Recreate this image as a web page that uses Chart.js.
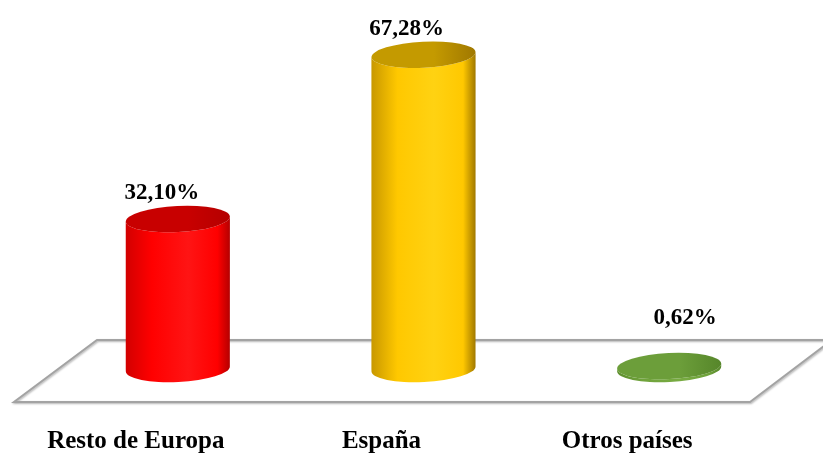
<!doctype html>
<html lang="es">

<head>
    <meta charset="utf-8">
    <title>Distribución por origen</title>
    <style>
        * {
            margin: 0;
            padding: 0;
        }

        body {
            background: #fff;
        }

        .chartBox {
            width: 823px;
            height: 458px;
        }
    </style>
</head>

<body>
    <div class="chartBox">
        <canvas id="myChart"></canvas>
    </div>
    <script src="https://cdn.jsdelivr.net/npm/chart.js/dist/chart.umd.min.js"></script>
    <script>
        // data
        const categories = ['Resto de Europa', 'España', 'Otros países'];
        const shares = [32.10, 67.28, 0.62];

        // styles
        const serif = "'Liberation Serif', 'Times New Roman', serif";
        const labelShift = [-16, -17, 16];
        const barStyles = [
            { edge: '#d20000', mid: '#ff0000', light: '#ff1414', dark: '#b40000', top: '#c80000' },
            { edge: '#c89800', mid: '#ffc800', light: '#ffd212', dark: '#a07800', top: '#c49a00' },
            { edge: '#5e8e2e', mid: '#70a33c', light: '#78ab42', dark: '#56862a', top: '#6c9e3a' }
        ];
        const ry = 13;
        const tilt = -0.05;

        const cylinders = {
            id: 'cylinders',
            beforeDatasetsDraw(chart) {
                const { ctx, chartArea: { left, right, bottom } } = chart;
                const back = bottom - 29;
                const front = bottom + 33;
                ctx.save();
                ctx.beginPath();
                ctx.moveTo(left + 42, back);
                ctx.lineTo(right + 40, back);
                ctx.lineTo(right - 42, front);
                ctx.lineTo(left - 41, front);
                ctx.closePath();
                ctx.shadowColor = 'rgba(0,0,0,0.3)';
                ctx.shadowBlur = 2;
                ctx.shadowOffsetX = 1;
                ctx.shadowOffsetY = 1;
                ctx.strokeStyle = '#a3a3a3';
                ctx.lineWidth = 2;
                ctx.stroke();
                ctx.restore();
            },
            afterDatasetsDraw(chart) {
                const { ctx, data, chartArea: { bottom } } = chart;
                const meta = chart.getDatasetMeta(0);
                ctx.save();
                meta.data.forEach((bar, i) => {
                    const s = barStyles[i];
                    const cx = bar.x;
                    const rx = bar.width / 2;
                    const topY = bar.y;
                    const baseY = bar.base;

                    // body
                    const g = ctx.createLinearGradient(cx - rx, 0, cx + rx, 0);
                    g.addColorStop(0, s.edge);
                    g.addColorStop(0.25, s.mid);
                    g.addColorStop(0.6, s.light);
                    g.addColorStop(0.88, s.mid);
                    g.addColorStop(1, s.dark);
                    ctx.beginPath();
                    ctx.moveTo(cx - rx, topY);
                    ctx.lineTo(cx - rx, baseY);
                    ctx.ellipse(cx, baseY, rx, ry, tilt, Math.PI, 0, true);
                    ctx.lineTo(cx + rx, topY);
                    ctx.ellipse(cx, topY, rx, ry, tilt, 0, Math.PI, false);
                    ctx.closePath();
                    ctx.fillStyle = g;
                    ctx.fill();

                    // top cap
                    const tg = ctx.createLinearGradient(cx - rx, 0, cx + rx, 0);
                    tg.addColorStop(0, s.top);
                    tg.addColorStop(0.6, s.top);
                    tg.addColorStop(1, s.dark);
                    ctx.beginPath();
                    ctx.ellipse(cx, topY, rx, ry, tilt, 0, Math.PI * 2);
                    ctx.fillStyle = tg;
                    ctx.fill();

                    // value label
                    const value = data.datasets[0].data[i];
                    const text = value.toFixed(2).replace('.', ',') + '%';
                    ctx.font = `bold 23px ${serif}`;
                    ctx.fillStyle = '#000';
                    ctx.textAlign = 'center';
                    ctx.textBaseline = 'alphabetic';
                    const ty = Math.min(topY - 20, bottom - 45);
                    ctx.fillText(text, cx + labelShift[i], ty);
                });
                ctx.restore();
            }
        };

        // config
        const config = {
            type: 'bar',
            data: {
                labels: categories,
                datasets: [{
                    data: shares,
                    backgroundColor: 'rgba(0,0,0,0)',
                    borderWidth: 0,
                    barPercentage: 0.424,
                    categoryPercentage: 1
                }]
            },
            options: {
                responsive: true,
                maintainAspectRatio: false,
                animation: false,
                layout: {
                    padding: { top: 42, left: 55, right: 31, bottom: 0 }
                },
                plugins: {
                    legend: { display: false },
                    tooltip: { enabled: false }
                },
                scales: {
                    x: {
                        grid: { display: false, drawTicks: false },
                        border: { display: false },
                        ticks: {
                            labelOffset: -42,
                            padding: 58,
                            color: '#000',
                            font: { family: serif, weight: 'bold', size: 25 }
                        },
                        afterFit(axis) {
                            axis.height = 89;
                        }
                    },
                    y: {
                        display: false,
                        min: 0,
                        max: 70
                    }
                }
            },
            plugins: [cylinders]
        };

        const myChart = new Chart(document.getElementById('myChart'), config);
    </script>
</body>

</html>
